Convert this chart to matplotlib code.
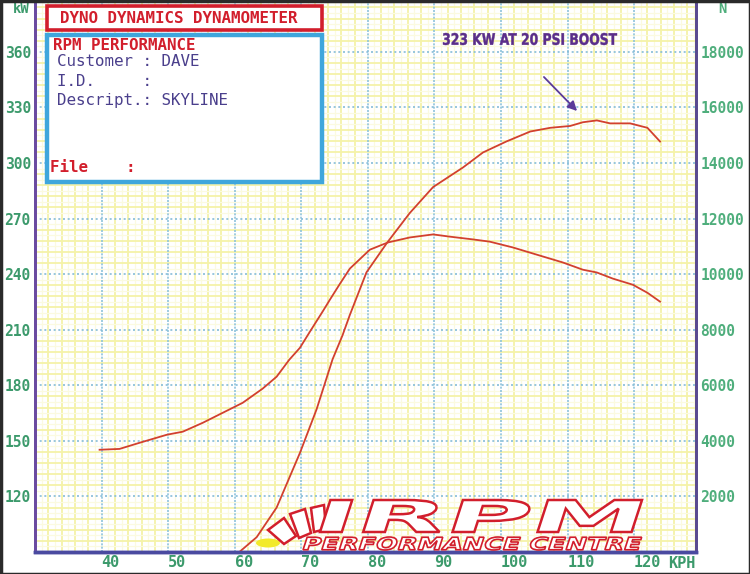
import matplotlib
matplotlib.use("Agg")
import matplotlib.pyplot as plt
import numpy as np
from matplotlib.patches import Rectangle, Polygon, PathPatch, Ellipse
from matplotlib.textpath import TextPath
from matplotlib.font_manager import FontProperties
from matplotlib.transforms import Affine2D

# ---------------- data ----------------
power_kph = [40, 60.7, 63.3, 66.3, 69.8, 72.3, 74.7, 76.2, 77.3, 79.8, 82.9, 86.3,
             89.8, 94.3, 97.3, 100.8, 104.4, 107.4, 110.4, 112.3, 114.4, 116.4,
             119.4, 122.0, 123.9]
power_kw = [90, 90, 98, 114, 143.5, 167, 194, 207, 218, 241, 257, 273,
            287, 297.6, 305.7, 311.6, 317, 319, 320, 322, 323, 321.4,
            321.4, 319, 311.6]

force_kph = [39.7, 42.7, 45.7, 49.8, 52.2, 55.2, 58.2, 61.2, 64.2, 66.3, 68.2,
             69.8, 71.3, 73.2, 74.3, 75.8, 77.3, 80.3, 83.0, 86.3, 89.8, 92.3,
             95.8, 98.3, 101.8, 105.4, 109.3, 112.3, 114.4, 116.8, 119.8, 122.0, 123.9]
force_n = [3680, 3710, 3930, 4220, 4330, 4650, 5010, 5370, 5880, 6310, 6920,
           7350, 7930, 8650, 9080, 9650, 10200, 10880, 11140, 11320, 11430, 11350,
           11250, 11170, 10960, 10700, 10420, 10160, 10060, 9840, 9620, 9330, 9010]

kph_ticks = [40, 50, 60, 70, 80, 90, 100, 110, 120]
kw_ticks = [120, 150, 180, 210, 240, 270, 300, 330, 360]
n_ticks = [2000, 4000, 6000, 8000, 10000, 12000, 14000, 16000, 18000]

title_box = "DYNO DYNAMICS DYNAMOMETER"
info_lines = ["Customer : DAVE", "I.D.     :", "Descript.: SKYLINE"]
note_text = "323 KW AT 20 PSI BOOST"

# ---------------- figure ----------------
W, H = 750, 574
fig = plt.figure(figsize=(W / 100, H / 100), dpi=100)
fig.patch.set_facecolor("white")

KW_MIN, KW_MAX = 90, 388
X_MIN, X_MAX = 30, 129.3
ax = fig.add_axes([35 / W, (H - 552) / H, (696 - 35) / W, 552 / H])
ax.set_xlim(X_MIN, X_MAX)
ax.set_ylim(KW_MIN, KW_MAX)
ax2 = ax.twinx()
ax2.set_ylim(0, (KW_MAX - KW_MIN) / 30 * 2000)

mono = "DejaVu Sans Mono"
green = "#3c9a6c"

# yellow fine grid
for xv in np.arange(31, 130, 1.0):
    if abs(xv % 10) < 1e-6:
        continue
    major = abs(xv % 2) < 1e-6
    ax.axvline(xv, color="#f5f2a8" if major else "#fbfae0", lw=1.3 if major else 0.9, zorder=0)
for yv in np.arange(93, 390, 3.0):
    if abs((yv - 90) % 30) < 1e-6:
        continue
    major = abs((yv - 90) % 6) < 1e-6
    ax.axhline(yv, color="#f5f2a8" if major else "#fbfae0", lw=1.3 if major else 0.9, zorder=0)
# blue major grid
for xv in range(40, 130, 10):
    ax.axvline(xv, color="#8fc3dc", lw=1.2, ls=(0, (1.2, 0.8)), zorder=1)
for yv in kw_ticks + [390]:
    ax.axhline(yv, color="#86bcd8", lw=1.2, ls=(0, (1.2, 1.6)), zorder=1)

# curves
ax.plot(power_kph, power_kw, color="#d2402e", lw=1.3, zorder=5)
ax2.plot(force_kph, force_n, color="#d2402e", lw=1.3, zorder=5)

# axes styling
ax.set_xticks(kph_ticks)
ax.set_xticklabels([str(v) for v in kph_ticks])
ax.set_yticks(kw_ticks)
ax.set_yticklabels([str(v) for v in kw_ticks])
ax2.set_yticks(n_ticks)
ax2.set_yticklabels([str(v) for v in n_ticks])
ax.tick_params(axis="both", length=0)
ax2.tick_params(axis="both", length=0)
for lab in ax.get_xticklabels():
    lab.set_fontfamily(mono); lab.set_fontweight("bold"); lab.set_fontsize(11)
    lab.set_color(green); lab.set_ha("left")
ax.tick_params(axis="x", pad=2)
for lab in ax.get_yticklabels():
    lab.set_fontfamily(mono); lab.set_fontweight("bold"); lab.set_fontsize(10.5)
    lab.set_color(green)
ax.tick_params(axis="y", pad=3)
for lab in ax2.get_yticklabels():
    lab.set_fontfamily(mono); lab.set_fontweight("bold"); lab.set_fontsize(10.5)
    lab.set_color("#4fae7c")
ax2.tick_params(axis="y", pad=3)

for a in (ax, ax2):
    a.spines["top"].set_visible(False)
    a.spines["left"].set_color("#6a4aa0"); a.spines["left"].set_linewidth(2)
    a.spines["right"].set_color("#5a4a90"); a.spines["right"].set_linewidth(2)
    a.spines["bottom"].set_color("#4a4aa0"); a.spines["bottom"].set_linewidth(2.5)
ax.set_facecolor("white")

# ---------------- overlay in pixel coords ----------------
ov = fig.add_axes([0, 0, 1, 1], zorder=10)
ov.set_xlim(0, W); ov.set_ylim(H, 0); ov.axis("off")
ov.patch.set_alpha(0)

def path_text(s, x0, x1, ytop, ybot, skew=0.0, weight="bold", family="DejaVu Sans",
              fc="white", ec="red", lw=1.5, style="normal"):
    fp = FontProperties(family=family, weight=weight, style=style)
    tp = TextPath((0, 0), s, size=1, prop=fp)
    ext = tp.get_extents()
    hgt = ybot - ytop
    sx = (x1 - x0 - np.tan(np.radians(skew)) * hgt) / ext.width
    sy = hgt / ext.height
    tr = (Affine2D().translate(-ext.x0, -ext.y0).scale(sx, -sy)
          .skew_deg(-skew, 0).translate(x0, ybot))
    p = tr.transform_path(tp)
    ov.add_patch(PathPatch(p, fc=fc, ec=ec, lw=lw, zorder=12))

# axis unit labels
ov.text(13, 9, "kW", color=green, family=mono, fontweight="bold", fontsize=10, va="center")
ov.text(718, 9, "N", color="#4fae7c", family=mono, fontweight="bold", fontsize=10, va="center")
ov.text(668, 564, "KPH", color=green, family=mono, fontweight="bold", fontsize=11, va="center")

# header boxes
red = "#d21e2c"
ov.add_patch(Rectangle((47, 6), 275, 24, fc="white", ec=red, lw=2.6, zorder=11))
ov.text(60, 18.5, title_box, color=red, family=mono, fontweight="bold", fontsize=11.4,
        va="center", zorder=12)
ov.add_patch(Rectangle((47, 35), 275, 147, fc="white", ec="#3fa6dc", lw=3.2, zorder=11))
ov.text(53, 46, "RPM PERFORMANCE", color=red, family=mono, fontweight="bold", fontsize=11.4,
        va="center", zorder=12)
for i, s in enumerate(info_lines):
    ov.text(57, 62 + i * 19, s, color="#4a3f8c", family=mono, fontsize=11.4,
            va="center", zorder=12)
ov.text(50, 167, "File    :", color=red, family=mono, fontweight="bold", fontsize=11.4,
        va="center", zorder=12)

# annotation
path_text(note_text, 443, 617, 33, 45, fc="#5a2d8a", ec="#5a2d8a", lw=0.3)
ov.annotate("", xy=(579, 113), xytext=(542, 75),
            arrowprops=dict(arrowstyle="-|>", color="#5a3a9a", lw=1.3, mutation_scale=14),
            zorder=12)

# logo
ov.add_patch(Ellipse((268, 543), 24, 9, fc="#f2ea2a", ec="none", zorder=11))
for poly in ([(268, 530), (284, 518), (296, 536), (284, 544)],
             [(290, 514), (305, 509), (311, 533), (299, 538)],
             [(311, 508), (324, 505), (326, 529), (314, 532)]):
    ov.add_patch(Polygon(poly, closed=True, fc="white", ec=red, lw=1.8, zorder=12))
path_text("IRPM", 320, 642, 500, 532, skew=18, fc="white", ec=red, lw=1.8)
path_text("PERFORMANCE CENTRE", 303, 642, 537, 550, skew=18, fc="white", ec=red, lw=1.2)

# outer frame
ov.add_patch(Rectangle((0.5, 0.5), W - 1, H - 1, fill=False, ec="#2a2a2a", lw=2.5, zorder=20))

fig.savefig("out.png", dpi=100)
